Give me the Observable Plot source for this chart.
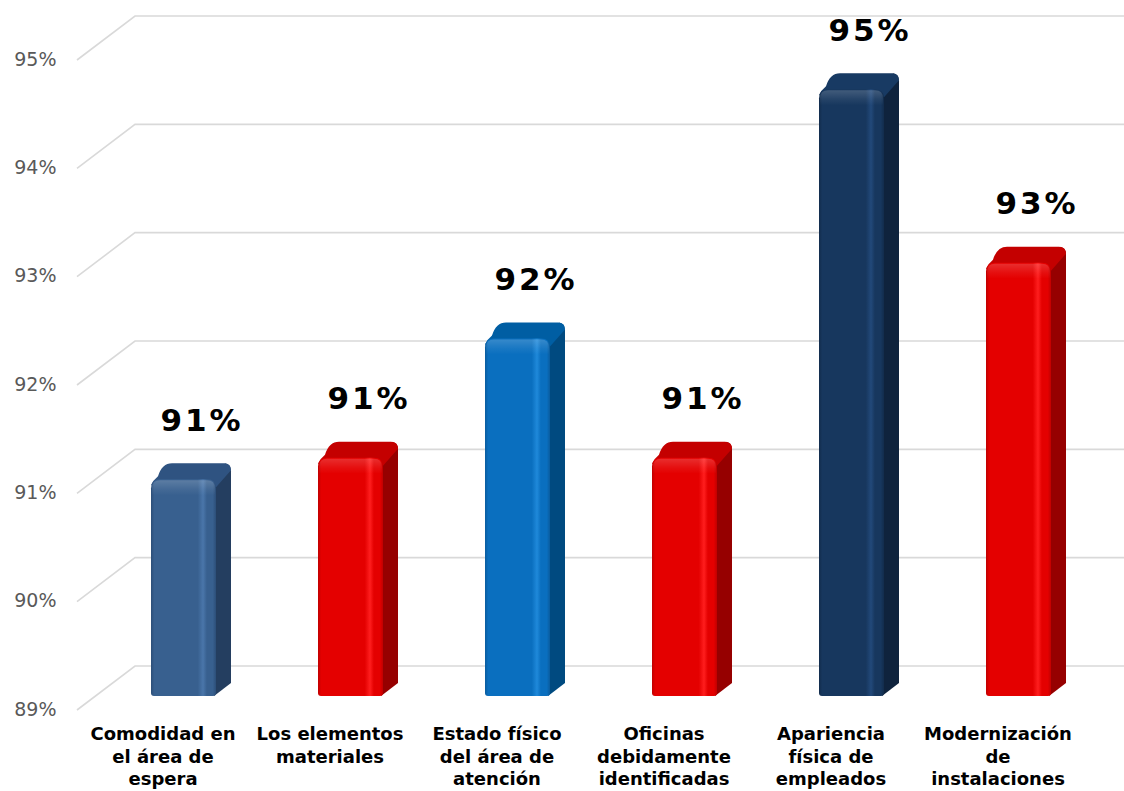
<!DOCTYPE html>
<html>
<head>
<meta charset="utf-8">
<script src="https://cdn.jsdelivr.net/npm/d3@7"></script>
<script src="https://cdn.jsdelivr.net/npm/@observablehq/plot@0.6"></script>
<style>
  body { margin: 0; background: #fff; }
  #chart svg { display: block; }
  g[font-size="31"] { letter-spacing: 3px; }
</style>
</head>
<body>
<div id="chart"></div>
<script>
// ---- data ----
const categories = [
  "Comodidad en\nel área de\nespera",
  "Los elementos\nmateriales",
  "Estado físico\ndel área de\natención",
  "Oficinas\ndebidamente\nidentificadas",
  "Apariencia\nfísica de\nempleados",
  "Modernización\nde\ninstalaciones"
];
const values = [91.0, 91.2, 92.3, 91.2, 94.6, 93.0];
const valueLabels = ["91%", "91%", "92%", "91%", "95%", "93%"];
const yTicks = [89, 90, 91, 92, 93, 94, 95];

// ---- styles (front, highlight, side, top) ----
const barColors = [
  {front: "#38608F", light: "#4A76AA", dark: "#2C4E78", side: "#243E60", top: "#2F5381"},
  {front: "#E40000", light: "#FF1E1E", dark: "#C00000", side: "#960000", top: "#C40000"},
  {front: "#0A6FBF", light: "#1F89DA", dark: "#0A5C9E", side: "#004A80", top: "#005EA3"},
  {front: "#E40000", light: "#FF1E1E", dark: "#C00000", side: "#960000", top: "#C40000"},
  {front: "#17375E", light: "#22497A", dark: "#122C4C", side: "#0F233D", top: "#183A63"},
  {front: "#E40000", light: "#FF1E1E", dark: "#C00000", side: "#960000", top: "#C40000"}
];

const data = categories.map((c, i) => ({cat: c, value: values[i], label: valueLabels[i], i}));
const baseValue = 89;
const DX = 15, DY = 16; // bar depth
const GX = 58, GF = 14, GB = 30; // grid perspective

function gridRender(index, scales, vals, dims) {
  const g = d3.create("svg:g");
  const x0 = dims.marginLeft - 21;
  for (const i of index) {
    const t = yTicks[i];
    const y = scales.y(t);
    g.append("path")
      .attr("d", `M${x0},${y + GF}L${x0 + GX},${y - GB}L${dims.width},${y - GB}`)
      .attr("fill", "none")
      .attr("stroke", "#D9D9D9")
      .attr("stroke-width", 1.6);
  }
  return g.node();
}

function barsRender(index, scales, vals, dims) {
  const g = d3.create("svg:g");
  const defs = g.append("defs");
  const bwRaw = scales.x.bandwidth;
  const bw = typeof bwRaw === "function" ? bwRaw() : bwRaw;
  const yb = scales.y(baseValue);
  for (const i of index) {
    const d = data[i];
    const c = barColors[i];
    const x0 = scales.x(d.cat);
    const x1 = x0 + bw;
    const yt = scales.y(d.value);
    const gid = "gf" + i;
    const lg = defs.append("linearGradient").attr("id", gid).attr("x1", 0).attr("x2", 1).attr("y1", 0).attr("y2", 0);
    [[0, c.dark], [0.05, c.front], [0.72, c.front], [0.8, c.light], [0.86, c.front], [0.95, c.front], [1, c.dark]]
      .forEach(([o, col]) => lg.append("stop").attr("offset", o).attr("stop-color", col));
    const vg = defs.append("linearGradient").attr("id", "gv" + i).attr("x1", 0).attr("x2", 0).attr("y1", 0).attr("y2", 1);
    [[0, "#fff", 0.18], [0.6, "#fff", 0.06], [1, "#fff", 0]]
      .forEach(([o, col, op]) => vg.append("stop").attr("offset", o).attr("stop-color", col).attr("stop-opacity", op));

    // side face
    g.append("path")
      .attr("d", `M${x1 - 2},${yb}L${x1 + DX},${yb - DY + 3}L${x1 + DX},${yt - DY + 8}Q${x1 + DX},${yt - DY + 1} ${x1 + DX - 6},${yt - DY}L${x1 - 4},${yt}Z`)
      .attr("fill", c.side);
    // top face
    g.append("path")
      .attr("d", `M${x0},${yt + 6}Q${x0 + 2},${yt + 1} ${x0 + 7},${yt - 3}Q${x0 + DX - 4},${yt - DY} ${x0 + DX + 6},${yt - DY}L${x1 + DX - 7},${yt - DY}Q${x1 + DX},${yt - DY} ${x1 + DX},${yt - DY + 7}L${x1},${yt + 8}Z`)
      .attr("fill", c.top);
    // front face
    const r = 9, rb = 3;
    g.append("path")
      .attr("d", `M${x0},${yb - rb}L${x0},${yt + r}Q${x0},${yt} ${x0 + r},${yt}L${x1 - r},${yt}Q${x1},${yt} ${x1},${yt + r}L${x1},${yb - rb}Q${x1},${yb} ${x1 - rb},${yb}L${x0 + rb},${yb}Q${x0},${yb} ${x0},${yb - rb}Z`)
      .attr("fill", `url(#${gid})`);
    // bevel highlight at top of the front face
    g.append("path")
      .attr("d", `M${x0 + 1},${yt + 16}L${x0 + 1},${yt + r}Q${x0 + 1},${yt + 1} ${x0 + r},${yt + 1}L${x1 - r},${yt + 1}Q${x1 - 1},${yt + 1} ${x1 - 1},${yt + r}L${x1 - 1},${yt + 16}Z`)
      .attr("fill", `url(#gv${i})`);
  }
  return g.node();
}

const chart = Plot.plot({
  width: 1124,
  height: 791,
  marginLeft: 98,
  marginRight: 20,
  marginTop: 46,
  marginBottom: 95,
  style: {fontFamily: "'DejaVu Sans', Verdana, sans-serif", background: "#fff"},
  x: {domain: categories, paddingInner: 0.61, paddingOuter: 0.305, axis: null},
  y: {domain: [89, 95], axis: null},
  marks: [
    Plot.ruleY(yTicks, {y: d => d, stroke: "#D9D9D9", render: gridRender}),
    Plot.text(yTicks, {y: d => d, text: d => d + "%", frameAnchor: "left", textAnchor: "end", dx: -42, dy: 13, fontSize: 19, fill: "#595959"}),
    Plot.barY(data, {x: "cat", y1: () => baseValue, y2: "value", fill: (d) => barColors[d.i].front, render: barsRender}),
    Plot.text(data, {x: "cat", y: "value", text: "label", dx: 18, dy: -59, fontSize: 31, fontWeight: "bold", fill: "#000"}),
    Plot.text(categories, {x: d => d, frameAnchor: "bottom", lineAnchor: "top", dy: 28, dx: -21, fontSize: 18, fontWeight: "bold", lineHeight: 1.25, fill: "#000"})
  ]
});
document.getElementById("chart").appendChild(chart);
</script>
</body>
</html>
